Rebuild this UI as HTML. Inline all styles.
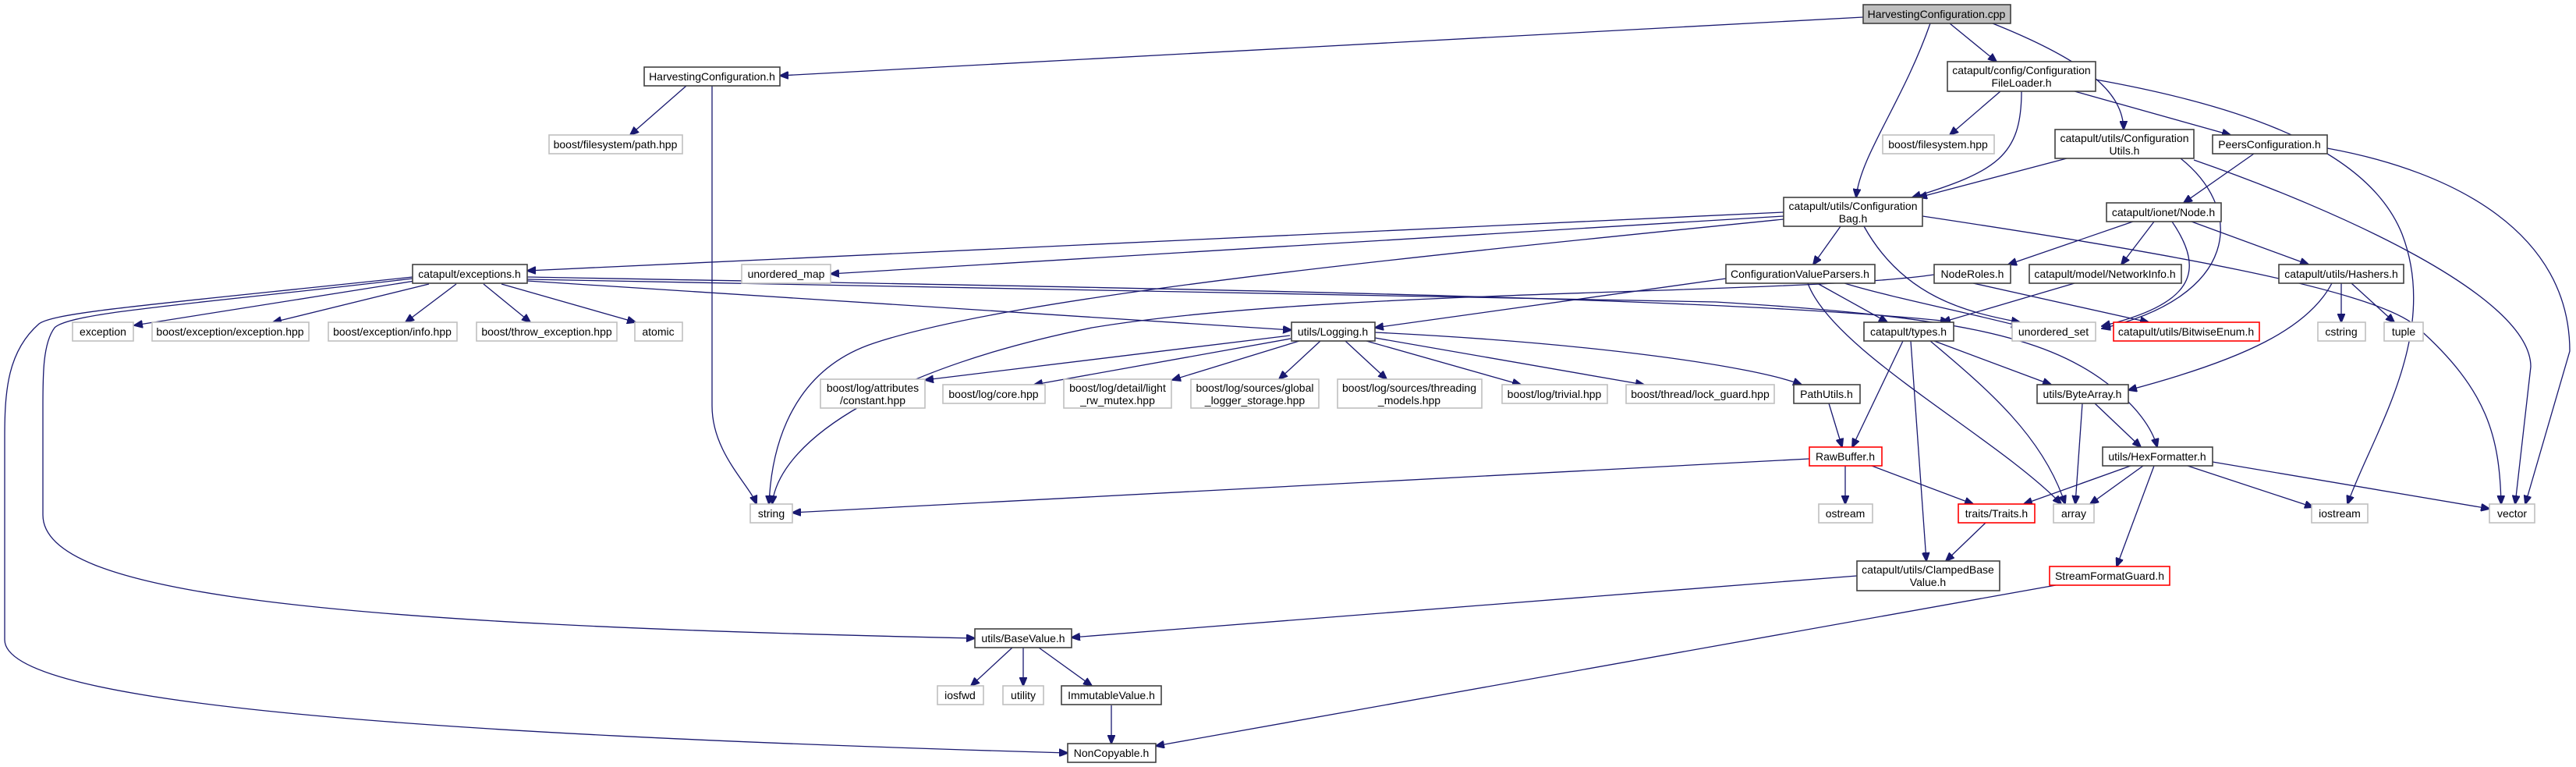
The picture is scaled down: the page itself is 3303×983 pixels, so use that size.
<!DOCTYPE html>
<html><head><meta charset="utf-8"><style>
html,body{margin:0;padding:0;background:#fff;}
svg{display:block;}
text{font-family:"Liberation Sans",Arial,sans-serif;font-size:14px;fill:#000;text-anchor:middle;}
.b{fill:#fff;stroke:#404040;stroke-width:1.6;}
.g{fill:#fff;stroke:#bfbfbf;stroke-width:1.6;}
.r{fill:#fff;stroke:#ff0000;stroke-width:1.6;}
.c{fill:#bfbfbf;stroke:#404040;stroke-width:1.6;}
path{fill:none;stroke:#191970;stroke-width:1.3;}
</style></head><body>
<svg width="3303" height="983" viewBox="0 0 3303 983" xmlns="http://www.w3.org/2000/svg">
<defs><marker id="a" markerUnits="userSpaceOnUse" markerWidth="12" markerHeight="10" refX="11" refY="5" orient="auto"><polygon points="0,0 12,5 0,10" fill="#191970" stroke="#191970"/></marker></defs>
<g marker-end="url(#a)">
<path d="M2389,22 L1000,97"/>
<path d="M2475,30 C2440,130 2385,200 2380,253"/>
<path d="M2500,30 L2560,79"/>
<path d="M2555,30 C2680,80 2722,120 2723,166"/>
<path d="M880,110 L808,173"/>
<path d="M913,110 L913,520 C913,580 960,620 970,646"/>
<path d="M2565,117 L2500,173"/>
<path d="M2592,117 C2592,200 2560,220 2452,253"/>
<path d="M2660,117 L2860,173"/>
<path d="M2687,102 C2900,140 3040,200 3080,300 C3130,430 3040,560 3010,646"/>
<path d="M2650,203 L2460,253"/>
<path d="M2796,203 C2880,270 2870,380 2695,421"/>
<path d="M2813,205 C3000,270 3245,380 3245,470 L3225,646"/>
<path d="M2890,197 L2800,260"/>
<path d="M2984,190 C3150,220 3295,300 3295,450 L3238,646"/>
<path d="M2287,272 L676,347"/>
<path d="M2287,277 L1065,351"/>
<path d="M2360,290 L2325,339"/>
<path d="M2287,281 C1800,330 1300,380 1120,440 C1000,480 988,600 986,646"/>
<path d="M2390,290 C2440,380 2520,400 2590,413"/>
<path d="M2465,277 C2750,320 3050,370 3100,420 C3190,500 3205,560 3207,646"/>
<path d="M2735,284 L2575,339"/>
<path d="M2762,284 L2720,339"/>
<path d="M2785,284 C2830,350 2810,390 2695,418"/>
<path d="M2810,284 L2960,339"/>
<path d="M2480,352 C2300,378 1700,370 1400,420 C1150,470 1000,560 990,646"/>
<path d="M2530,363 L2755,413"/>
<path d="M2660,363 L2490,413"/>
<path d="M3002,363 L3002,413"/>
<path d="M3015,363 L3070,413"/>
<path d="M2990,363 C2960,420 2880,460 2729,500"/>
<path d="M2213,357 L1763,420"/>
<path d="M2330,363 L2420,413"/>
<path d="M2365,363 C2420,380 2520,400 2590,418"/>
<path d="M2318,363 C2350,450 2560,560 2643,646"/>
<path d="M676,355 C1500,370 2200,380 2499,412"/>
<path d="M676,358 L2200,387 C2500,405 2620,430 2700,490 C2740,520 2760,550 2766,573"/>
<path d="M676,360 L1656,423"/>
<path d="M532,360 L172,417"/>
<path d="M550,364 L350,413"/>
<path d="M585,364 L520,413"/>
<path d="M620,364 L680,413"/>
<path d="M643,364 L815,413"/>
<path d="M529,357 C250,390 90,400 70,420 C55,440 55,480 55,520 L55,660 C55,760 400,800 1250,818"/>
<path d="M529,355 C200,390 70,400 50,415 C10,450 6,500 6,560 L6,820 C6,900 500,940 1369,965"/>
<path d="M1654,430 C1400,460 1250,480 1186,487"/>
<path d="M1655,434 L1326,493"/>
<path d="M1666,437 L1503,487"/>
<path d="M1693,437 L1640,486"/>
<path d="M1725,437 L1778,486"/>
<path d="M1752,437 L1950,493"/>
<path d="M1763,433 L2108,493"/>
<path d="M1763,426 C2050,440 2250,470 2310,493"/>
<path d="M2345,517 L2362,573"/>
<path d="M2440,437 L2375,573"/>
<path d="M2450,437 L2470,719"/>
<path d="M2480,437 L2630,493"/>
<path d="M2475,437 C2550,500 2620,560 2648,646"/>
<path d="M2670,517 L2661,646"/>
<path d="M2686,517 L2745,573"/>
<path d="M2320,588 L1016,657"/>
<path d="M2366,597 L2366,646"/>
<path d="M2400,597 L2530,646"/>
<path d="M2732,597 L2595,646"/>
<path d="M2748,597 L2680,646"/>
<path d="M2762,597 L2714,726"/>
<path d="M2805,597 L2966,650"/>
<path d="M2837,592 L3192,652"/>
<path d="M2546,670 L2495,719"/>
<path d="M2381,738 L1374,817"/>
<path d="M2636,750 L1482,956"/>
<path d="M1298,830 L1245,879"/>
<path d="M1312,830 L1312,879"/>
<path d="M1332,830 L1400,879"/>
<path d="M1425,904 L1425,953"/>
</g>
<g>
<rect class="c" x="2389" y="6" width="189" height="24"/><text x="2483" y="23">HarvestingConfiguration.cpp</text>
<rect class="b" x="826" y="86" width="174" height="24"/><text x="913" y="103">HarvestingConfiguration.h</text>
<rect class="g" x="704" y="173" width="171" height="24"/><text x="789" y="190">boost/filesystem/path.hpp</text>
<rect class="b" x="2497" y="79" width="190" height="38"/><text x="2592" y="95">catapult/config/Configuration</text><text x="2592" y="111">FileLoader.h</text>
<rect class="g" x="2414" y="173" width="143" height="24"/><text x="2485" y="190">boost/filesystem.hpp</text>
<rect class="b" x="2635" y="166" width="178" height="37"/><text x="2724" y="182">catapult/utils/Configuration</text><text x="2724" y="198">Utils.h</text>
<rect class="b" x="2837" y="173" width="147" height="24"/><text x="2910" y="190">PeersConfiguration.h</text>
<rect class="b" x="2287" y="253" width="178" height="37"/><text x="2376" y="269">catapult/utils/Configuration</text><text x="2376" y="285">Bag.h</text>
<rect class="b" x="2701" y="260" width="147" height="24"/><text x="2774" y="277">catapult/ionet/Node.h</text>
<rect class="b" x="529" y="339" width="147" height="24"/><text x="602" y="356">catapult/exceptions.h</text>
<rect class="g" x="951" y="339" width="114" height="24"/><text x="1008" y="356">unordered_map</text>
<rect class="b" x="2213" y="339" width="191" height="24"/><text x="2308" y="356">ConfigurationValueParsers.h</text>
<rect class="b" x="2480" y="339" width="98" height="24"/><text x="2529" y="356">NodeRoles.h</text>
<rect class="b" x="2602" y="339" width="195" height="24"/><text x="2699" y="356">catapult/model/NetworkInfo.h</text>
<rect class="b" x="2922" y="339" width="160" height="24"/><text x="3002" y="356">catapult/utils/Hashers.h</text>
<rect class="g" x="93" y="413" width="78" height="24"/><text x="132" y="430">exception</text>
<rect class="g" x="195" y="413" width="201" height="24"/><text x="295" y="430">boost/exception/exception.hpp</text>
<rect class="g" x="421" y="413" width="165" height="24"/><text x="503" y="430">boost/exception/info.hpp</text>
<rect class="g" x="611" y="413" width="180" height="24"/><text x="701" y="430">boost/throw_exception.hpp</text>
<rect class="g" x="814" y="413" width="61" height="24"/><text x="844" y="430">atomic</text>
<rect class="b" x="1656" y="413" width="107" height="24"/><text x="1709" y="430">utils/Logging.h</text>
<rect class="b" x="2390" y="413" width="115" height="24"/><text x="2447" y="430">catapult/types.h</text>
<rect class="g" x="2580" y="413" width="107" height="24"/><text x="2633" y="430">unordered_set</text>
<rect class="r" x="2710" y="413" width="187" height="24"/><text x="2803" y="430">catapult/utils/BitwiseEnum.h</text>
<rect class="g" x="2972" y="413" width="61" height="24"/><text x="3002" y="430">cstring</text>
<rect class="g" x="3057" y="413" width="50" height="24"/><text x="3082" y="430">tuple</text>
<rect class="g" x="1052" y="486" width="134" height="37"/><text x="1119" y="502">boost/log/attributes</text><text x="1119" y="518">/constant.hpp</text>
<rect class="g" x="1209" y="493" width="131" height="24"/><text x="1274" y="510">boost/log/core.hpp</text>
<rect class="g" x="1364" y="486" width="138" height="37"/><text x="1433" y="502">boost/log/detail/light</text><text x="1433" y="518">_rw_mutex.hpp</text>
<rect class="g" x="1527" y="486" width="164" height="37"/><text x="1609" y="502">boost/log/sources/global</text><text x="1609" y="518">_logger_storage.hpp</text>
<rect class="g" x="1715" y="486" width="185" height="37"/><text x="1807" y="502">boost/log/sources/threading</text><text x="1807" y="518">_models.hpp</text>
<rect class="g" x="1926" y="493" width="135" height="24"/><text x="1993" y="510">boost/log/trivial.hpp</text>
<rect class="g" x="2085" y="493" width="190" height="24"/><text x="2180" y="510">boost/thread/lock_guard.hpp</text>
<rect class="b" x="2300" y="493" width="85" height="24"/><text x="2342" y="510">PathUtils.h</text>
<rect class="b" x="2612" y="493" width="117" height="24"/><text x="2670" y="510">utils/ByteArray.h</text>
<rect class="r" x="2320" y="573" width="93" height="24"/><text x="2366" y="590">RawBuffer.h</text>
<rect class="b" x="2696" y="573" width="141" height="24"/><text x="2766" y="590">utils/HexFormatter.h</text>
<rect class="g" x="962" y="646" width="54" height="24"/><text x="989" y="663">string</text>
<rect class="g" x="2332" y="646" width="69" height="24"/><text x="2366" y="663">ostream</text>
<rect class="r" x="2511" y="646" width="98" height="24"/><text x="2560" y="663">traits/Traits.h</text>
<rect class="g" x="2633" y="646" width="52" height="24"/><text x="2659" y="663">array</text>
<rect class="g" x="2964" y="646" width="72" height="24"/><text x="3000" y="663">iostream</text>
<rect class="g" x="3192" y="646" width="58" height="24"/><text x="3221" y="663">vector</text>
<rect class="b" x="2381" y="719" width="183" height="38"/><text x="2472" y="735">catapult/utils/ClampedBase</text><text x="2472" y="751">Value.h</text>
<rect class="r" x="2628" y="726" width="154" height="24"/><text x="2705" y="743">StreamFormatGuard.h</text>
<rect class="b" x="1250" y="806" width="124" height="24"/><text x="1312" y="823">utils/BaseValue.h</text>
<rect class="g" x="1202" y="879" width="59" height="24"/><text x="1231" y="896">iosfwd</text>
<rect class="g" x="1286" y="879" width="52" height="24"/><text x="1312" y="896">utility</text>
<rect class="b" x="1361" y="879" width="128" height="24"/><text x="1425" y="896">ImmutableValue.h</text>
<rect class="b" x="1369" y="953" width="113" height="24"/><text x="1425" y="970">NonCopyable.h</text>
</g>
</svg>
</body></html>
